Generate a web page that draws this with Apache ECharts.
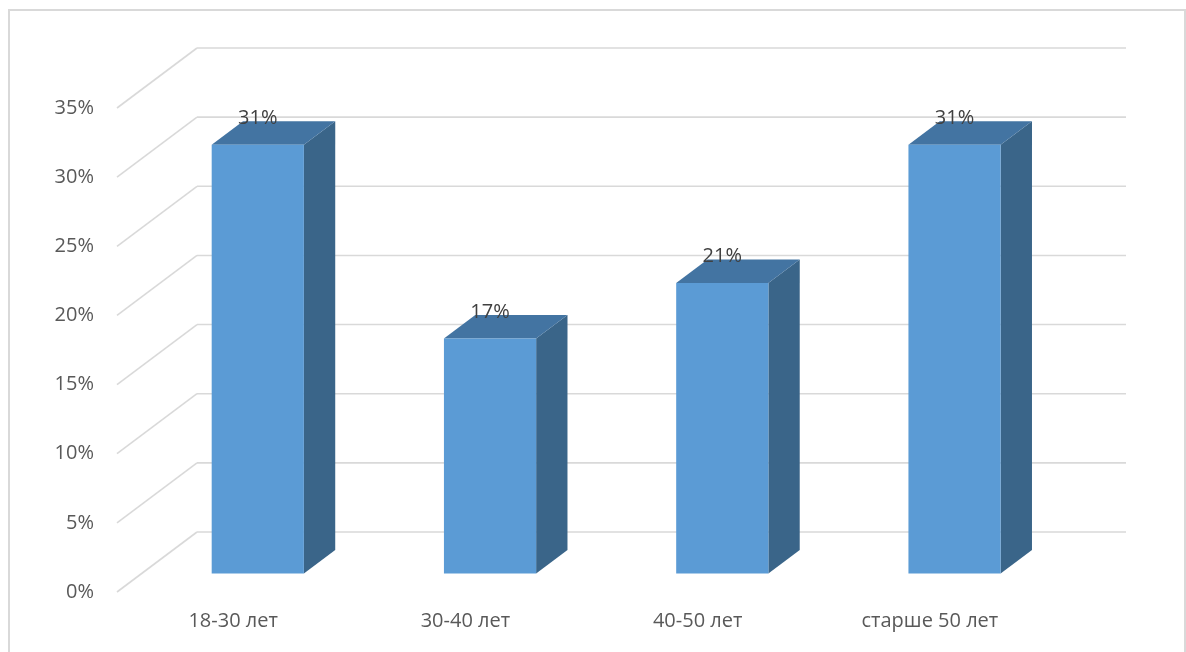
<!DOCTYPE html>
<html>
<head>
<meta charset="utf-8">
<script src="https://cdn.jsdelivr.net/npm/echarts@6/dist/echarts.min.js"></script>
<style>html,body{margin:0;padding:0;background:#fff;}#c{width:1186px;height:652px;}</style>
</head>
<body>
<div id="c"></div>
<script>
var categories = ['18-30 лет', '30-40 лет', '40-50 лет', 'старше 50 лет'];
var values = [31, 17, 21, 31];
var yTicks = [0, 5, 10, 15, 20, 25, 30, 35];

var FONT = '"Open Sans", "DejaVu Sans", sans-serif';
var WALL_DX = 80, WALL_DY = 60;       // back wall depth offset
var BAR_D1 = 18.5, BAR_D2 = 42;       // bar front/back depth (in dy units)
var KX = WALL_DX / WALL_DY;
var BAR_W_FRAC = 0.397;

var chart = echarts.init(document.getElementById('c'));

function wallRender(params, api) {
  var cs = params.coordSys;
  var v = api.value(0);
  var y = api.coord([0, v])[1];
  var x0 = cs.x, x1 = cs.x + cs.width;
  var style = { stroke: '#d9d9d9', lineWidth: 1.6, fill: null };
  return {
    type: 'group',
    children: [
      { type: 'line', shape: { x1: x0, y1: y, x2: x0 + WALL_DX, y2: y - WALL_DY }, style: style },
      { type: 'line', shape: { x1: x0 + WALL_DX, y1: y - WALL_DY, x2: x1 + WALL_DX, y2: y - WALL_DY }, style: style }
    ]
  };
}

function barRender(params, api) {
  var idx = api.value(0);
  var v = api.value(1);
  var top = api.coord([idx, v]);
  var base = api.coord([idx, 0]);
  var bw = api.size([1, 0])[0] * BAR_W_FRAC;
  var ox = BAR_D1 * KX, oy = -BAR_D1;
  var dx = (BAR_D2 - BAR_D1) * KX, dy = -(BAR_D2 - BAR_D1);
  var xl = top[0] - bw / 2 + ox, xr = top[0] + bw / 2 + ox;
  var yt = top[1] + oy, yb = base[1] + oy;
  return {
    type: 'group',
    children: [
      { type: 'polygon', shape: { points: [[xr, yt], [xr + dx, yt + dy], [xr + dx, yb + dy], [xr, yb]] },
        style: { fill: '#3a6589' } },
      { type: 'polygon', shape: { points: [[xl, yt], [xl + dx, yt + dy], [xr + dx, yt + dy], [xr, yt]] },
        style: { fill: '#4374a2' } },
      { type: 'rect', shape: { x: xl, y: yt, width: xr - xl, height: yb - yt },
        style: { fill: '#5b9bd5' } },
      { type: 'text', x: (xl + xr) / 2, y: yt + dy - 3,
        style: { text: v + '%', fill: '#404040', font: '20px ' + FONT, align: 'center', verticalAlign: 'middle' } }
    ]
  };
}

chart.setOption({
  backgroundColor: '#ffffff',
  animation: false,
  textStyle: { fontFamily: FONT },
  graphic: [{
    type: 'rect', shape: { x: 9, y: 10, width: 1176, height: 660 },
    style: { stroke: '#d9d9d9', lineWidth: 2, fill: null }, z: 0
  }],
  grid: { left: 117, right: 140, top: 108, bottom: 60, containLabel: false },
  xAxis: {
    type: 'category', data: categories,
    axisLine: { show: false }, axisTick: { show: false }, splitLine: { show: false },
    axisLabel: { fontSize: 20, color: '#595959', margin: 19, fontFamily: FONT, interval: 0 }
  },
  yAxis: {
    type: 'value', min: 0, max: 35, interval: 5,
    axisLine: { show: false }, axisTick: { show: false }, splitLine: { show: false },
    axisLabel: { fontSize: 20, color: '#595959', margin: 23, fontFamily: FONT, formatter: '{value}%' }
  },
  series: [
    { type: 'custom', renderItem: wallRender, data: yTicks.map(function (t) { return [t]; }),
      encode: { y: 0 }, clip: false, silent: true, z: 1 },
    { type: 'custom', renderItem: barRender,
      data: values.map(function (v, i) { return [i, v]; }),
      encode: { x: 0, y: 1 }, clip: false, z: 2 }
  ]
});
</script>
</body>
</html>
